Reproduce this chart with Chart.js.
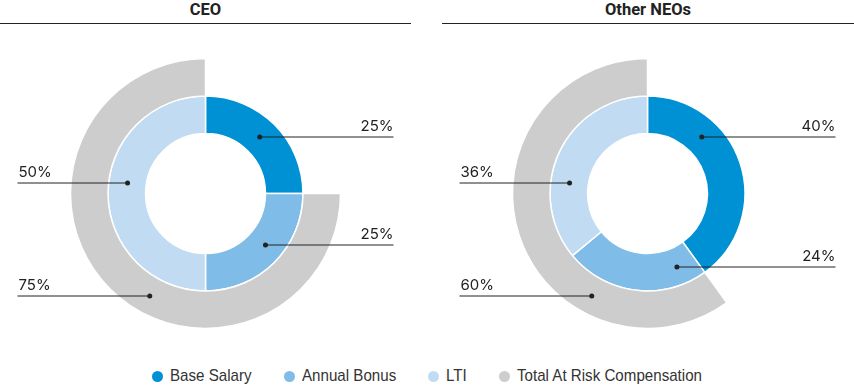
<!DOCTYPE html>
<html lang="en">
<head>
    <meta charset="UTF-8">
    <title>Pay Mix</title>
    <style>
        body {
            margin: 0;
            width: 854px;
            height: 385px;
            background: #fff;
            position: relative;
            overflow: hidden;
            font-family: Inter, Arial, sans-serif;
        }
        .panel {
            position: absolute;
            top: 0;
            width: 411px;
            height: 362px;
        }
        #ceoPanel { left: 0; }
        #neoPanel { left: 442px; width: 412px; }
        .panel h2 {
            margin: 0;
            height: 23px;
            border-bottom: 1px solid #222;
            text-align: center;
            font: bold 16.5px Roboto, Arial, sans-serif;
            line-height: 20px;
            color: #222;
        }
        .chart-box {
            position: absolute;
            top: 26px;
            left: 0;
            width: 411px;
            height: 335px;
        }
        #legend {
            position: absolute;
            top: 366px;
            left: 0;
            width: 854px;
            display: flex;
            justify-content: center;
            gap: 32px;
            font: 17px "Liberation Sans", Arial, sans-serif;
            color: #333;
            line-height: 20px;
        }
        #legend span.item { display: flex; align-items: center; }
        #legend i {
            display: inline-block;
            width: 11px;
            height: 11px;
            border-radius: 50%;
            margin-right: 7px;
        }
        #legend span.txt { display: inline-block; white-space: nowrap; overflow: visible; }
        #legend span.txt b {
            font-weight: normal;
            display: inline-block;
            transform: scaleX(0.89);
            transform-origin: left center;
        }
    </style>
</head>
<body>
    <div class="panel" id="ceoPanel">
        <h2>CEO</h2>
        <div class="chart-box"><canvas id="ceoChart"></canvas></div>
    </div>
    <div class="panel" id="neoPanel">
        <h2>Other NEOs</h2>
        <div class="chart-box"><canvas id="neoChart"></canvas></div>
    </div>
    <div id="legend"></div>

    <script src="https://cdn.jsdelivr.net/npm/chart.js"></script>
    <script>
        // data
        const categories = ['Base Salary', 'Annual Bonus', 'LTI'];
        const atRiskLabel = 'Total At Risk Compensation';
        const ceoValues = [25, 25, 50];
        const ceoAtRisk = 75;
        const neoValues = [40, 24, 36];
        const neoAtRisk = 60;

        const colors = ['#0091d5', '#80bce8', '#c0dbf2'];
        const greyColor = '#cdcdcd';

        // callout rows (px from chart centre) for each label
        const ceoRows = { base: -57, bonus: 51, lti: -11, risk: 102 };
        const neoRows = { base: -57, bonus: 73, lti: -11, risk: 102 };

        // custom plugin: dot on the ring, horizontal leader line, value text
        const calloutPlugin = {
            id: 'callouts',
            afterDatasetsDraw(chart) {
                const ctx = chart.ctx;
                ctx.save();
                chart.data.datasets.forEach((ds, di) => {
                    const meta = chart.getDatasetMeta(di);
                    meta.data.forEach((arc, i) => {
                        const c = ds.callouts && ds.callouts[i];
                        if (!c) return;
                        const p = arc.getProps(['x', 'y', 'innerRadius', 'outerRadius'], true);
                        const r = (p.innerRadius + p.outerRadius) / 2;
                        const dx = Math.sqrt(Math.max(r * r - c.dy * c.dy, 0));
                        const dotX = c.side === 'right' ? p.x + dx : p.x - dx;
                        const y = p.y + c.dy;
                        const endX = c.side === 'right' ? p.x + 188 : p.x - 188;

                        ctx.strokeStyle = '#222';
                        ctx.lineWidth = 1;
                        ctx.beginPath();
                        ctx.moveTo(dotX, y + 0.5);
                        ctx.lineTo(endX, y + 0.5);
                        ctx.stroke();

                        ctx.fillStyle = '#222';
                        ctx.beginPath();
                        ctx.arc(dotX, y + 0.5, 2.5, 0, Math.PI * 2);
                        ctx.fill();

                        ctx.font = '15px Inter, Arial, sans-serif';
                        ctx.textBaseline = 'alphabetic';
                        ctx.textAlign = c.side === 'right' ? 'right' : 'left';
                        ctx.fillText(ds.data[i] + '%', c.side === 'right' ? endX : endX + 1, y - 6);
                    });
                });
                ctx.restore();
            }
        };

        function makeChart(id, values, atRisk, rows) {
            const ctx = document.getElementById(id).getContext('2d');
            return new Chart(ctx, {
                type: 'doughnut',
                data: {
                    labels: categories,
                    datasets: [{
                        // outer ring: at-risk share
                        data: [values[0], atRisk],
                        backgroundColor: ['rgba(0,0,0,0)', greyColor],
                        borderColor: '#fff',
                        borderWidth: [0, 1.5],
                        callouts: [null, { dy: rows.risk, side: 'left' }]
                    }, {
                        data: values,
                        backgroundColor: colors,
                        borderColor: '#fff',
                        borderWidth: 1.5,
                        callouts: [
                            { dy: rows.base, side: 'right' },
                            { dy: rows.bonus, side: 'right' },
                            { dy: rows.lti, side: 'left' }
                        ]
                    }]
                },
                options: {
                    responsive: true,
                    maintainAspectRatio: false,
                    animation: false,
                    events: [],
                    radius: 135,
                    cutout: '44.4%',
                    plugins: {
                        legend: { display: false },
                        tooltip: { enabled: false }
                    }
                },
                plugins: [calloutPlugin]
            });
        }

        makeChart('ceoChart', ceoValues, ceoAtRisk, ceoRows);
        makeChart('neoChart', neoValues, neoAtRisk, neoRows);

        // legend (condensed look: text squeezed horizontally)
        const legend = document.getElementById('legend');
        const legendLabels = categories.concat([atRiskLabel]);
        const legendColors = colors.concat([greyColor]);
        legendLabels.forEach((label, i) => {
            const item = document.createElement('span');
            item.className = 'item';
            item.innerHTML = '<i style="background:' + legendColors[i] + '"></i><span class="txt"><b>' + label + '</b></span>';
            legend.appendChild(item);
        });
        legend.querySelectorAll('span.txt').forEach(t => {
            const w = t.firstChild.getBoundingClientRect().width;  // already scaled
            t.style.width = w + 'px';
        });
    </script>
</body>
</html>
